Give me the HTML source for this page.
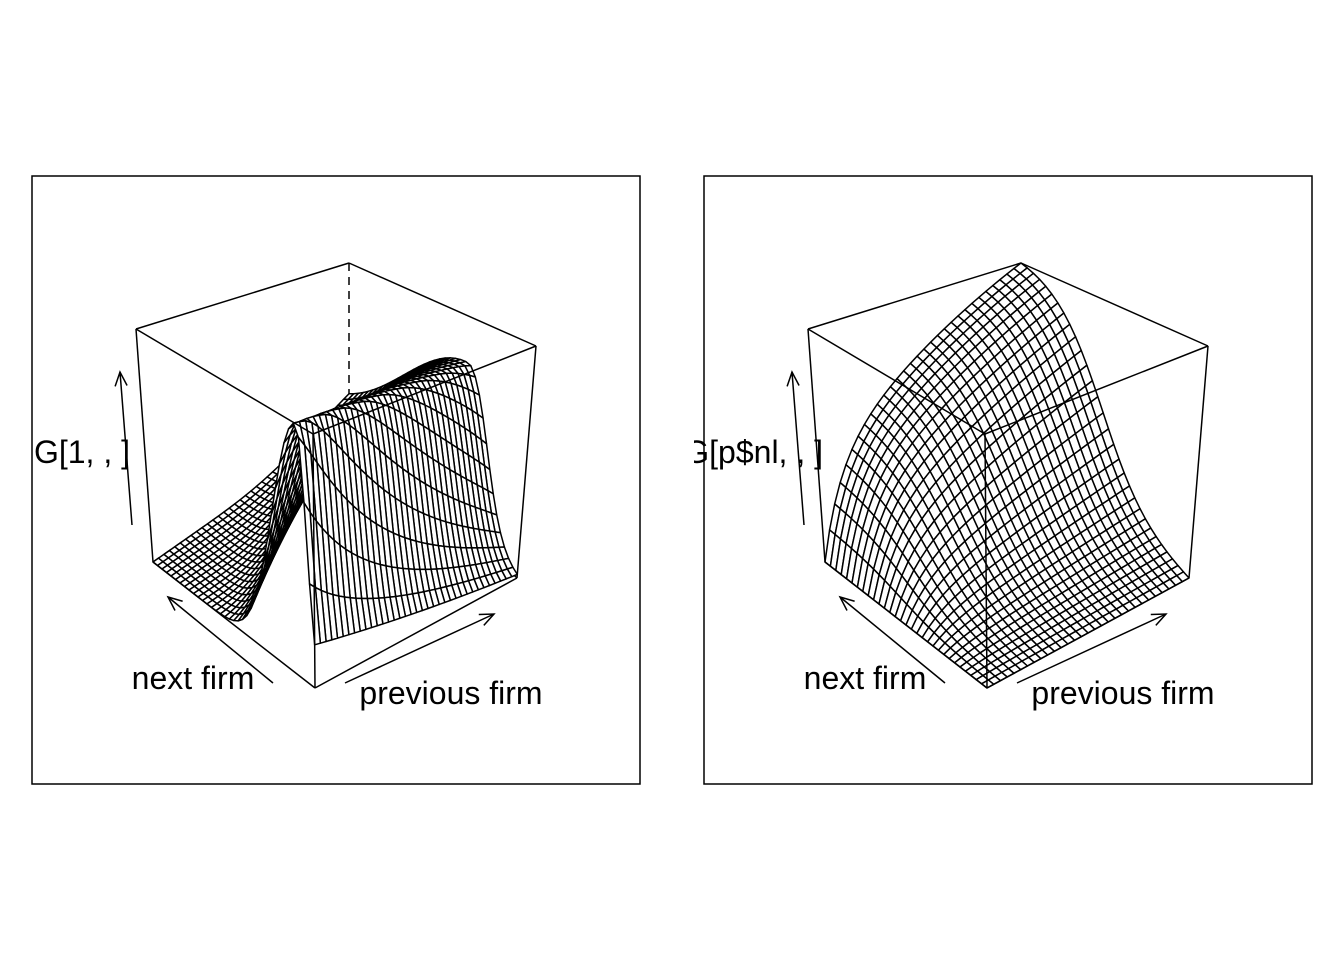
<!DOCTYPE html>
<html><head><meta charset="utf-8"><style>
body{margin:0;background:#fff}
svg{display:block;font-family:"Liberation Sans",sans-serif}
</style></head><body>
<svg id="c" width="1344" height="960">
<defs><clipPath id="clipL"><rect x="0" y="0" width="672" height="960"/></clipPath>
<clipPath id="clipR"><rect x="694" y="0" width="650" height="960"/></clipPath></defs>
</svg>
<script>
// data arrays
const gridN = [36, 30];
const zLabels = ["G[1, , ]", "G[p$nl, , ]"];
const zLabelEnd = [130, 823];
const xLabel = "previous firm";
const yLabel = "next firm";
const panelOffsets = [0, 672];
// left surface shape parameters
const leftPeak = [0.1, 0.35];
const leftFrontLevel = [0.17, 0.02];
const leftWidthBack = [0.2, 0.55];
const leftHeight = [1.0, 0.78];
// right surface parameters
const rightRise = [0.1];
const rightBase = [0.4];
const rightYCenter = [0.58];
const rightYWidth = [0.14];

const NS = "http://www.w3.org/2000/svg";
const svg = document.getElementById('c');
function el(t, a, p){const e=document.createElementNS(NS,t);for(const k in a)e.setAttribute(k,a[k]);(p||svg).appendChild(e);return e;}

const B00=[315,688],B10=[517,578],B01=[153,562],B11=[349,425];
const T00=[313,434],T10=[536,346],T01=[136,329],T11=[349,263];
function bil(a,b,c,d,x,y,k){return a[k]*(1-x)*(1-y)+b[k]*x*(1-y)+c[k]*(1-x)*y+d[k]*x*y;}
function proj(x,y,z,off){
  const bx=bil(B00,B10,B01,B11,x,y,0), by=bil(B00,B10,B01,B11,x,y,1);
  const tx=bil(T00,T10,T01,T11,x,y,0), ty=bil(T00,T10,T01,T11,x,y,1);
  return [bx*(1-z)+tx*z+off, by*(1-z)+ty*z];
}
function fLeft(x,y){
  const yp=leftPeak[0]+(leftPeak[1]-leftPeak[0])*x;
  const lvl=leftFrontLevel[0]+(leftFrontLevel[1]-leftFrontLevel[0])*x;
  const wf=yp/Math.sqrt(-Math.log(lvl));
  const wb=leftWidthBack[0]+(leftWidthBack[1]-leftWidthBack[0])*x;
  const w=y<yp?wf:wb;
  const h=leftHeight[0]+(leftHeight[1]-leftHeight[0])*x;
  return Math.exp(-Math.pow((y-yp)/w,2))*h;
}
function fRight(x,y){
  const sx=(1-Math.exp(-x/rightRise[0]))*(rightBase[0]+(1-rightBase[0])*x);
  const gy=1/(1+Math.exp(-(y-rightYCenter[0])/rightYWidth[0]));
  const g0=1/(1+Math.exp(rightYCenter[0]/rightYWidth[0]));
  const g1=1/(1+Math.exp(-(1-rightYCenter[0])/rightYWidth[0]));
  return sx*(gy-g0)/(g1-g0);
}
const fns=[fLeft,fRight];

panelOffsets.forEach((off,p)=>{
  const g=el('g',{});
  el('rect',{x:32+off,y:176,width:608,height:608,fill:'none',stroke:'#000','stroke-width':1.5,},g);
  const P=(x,y,z)=>proj(x,y,z,off);
  const line=(a,b,dash,name)=>el('line',{x1:a[0],y1:a[1],x2:b[0],y2:b[1],stroke:'#000','stroke-width':1.5,'stroke-dasharray':dash?'8,6':'none',},g);
  line(P(1,1,0),P(1,1,1),true,'box-back-edge');
  line(P(0,1,0),P(1,1,0),true,'box-back-edge');
  line(P(1,0,0),P(1,1,0),true,'box-back-edge');
  const n=gridN[p], f=fns[p];
  const sg=el('g',{},g);
  const cells=[];
  for(let i=0;i<n;i++)for(let j=0;j<n;j++)cells.push([i,j]);
  cells.sort((a,b)=>(b[0]+b[1])-(a[0]+a[1]));
  cells.forEach(([i,j])=>{
    const x0=i/n,x1=(i+1)/n,y0=j/n,y1=(j+1)/n;
    const pts=[P(x0,y0,f(x0,y0)),P(x1,y0,f(x1,y0)),P(x1,y1,f(x1,y1)),P(x0,y1,f(x0,y1))];
    const q=el('polygon',{points:pts.map(p=>p.join(',')).join(' '),fill:'#fff',stroke:'#000','stroke-width':1.5,'stroke-linejoin':'round'},sg);
    
    
  });
  line(P(0,0,1),P(1,0,1),false,'box-top-edge');
  line(P(1,0,1),P(1,1,1),false,'box-top-edge');
  line(P(1,1,1),P(0,1,1),false,'box-top-edge');
  line(P(0,1,1),P(0,0,1),false,'box-top-edge');
  line(P(0,1,0),P(0,1,1),false,'box-left-edge');
  line(P(1,0,0),P(1,0,1),false,'box-right-edge');
  line(P(0,0,0),P(0,0,1),false,'box-front-edge');
  line(P(0,0,0),P(1,0,0),false,'box-bottom-edge');
  line(P(0,0,0),P(0,1,0),false,'box-bottom-edge');
  const arrow=(a,b,name)=>{
    line(a,b,false,name);
    const dx=b[0]-a[0],dy=b[1]-a[1],L=Math.hypot(dx,dy),ux=dx/L,uy=dy/L;
    const h=14,w=6;
    el('polyline',{points:`${b[0]-ux*h-uy*w},${b[1]-uy*h+ux*w} ${b[0]},${b[1]} ${b[0]-ux*h+uy*w},${b[1]-uy*h-ux*w}`,fill:'none',stroke:'#000','stroke-width':1.5,},g);
  };
  arrow([132+off,525],[120+off,372],'z-axis-arrow');
  arrow([273+off,683],[168+off,597],'y-axis-arrow');
  arrow([345+off,683],[494+off,614],'x-axis-arrow');
  const txt=(s,x,y,anchor,name,clip)=>{const t=el('text',{x:x,y:y,'font-size':32,'text-anchor':anchor,'clip-path':clip||'none'},g);t.textContent=s;};
  txt(zLabels[p],zLabelEnd[p],463,'end','z-axis-title',p?'url(#clipR)':'url(#clipL)');
  txt(yLabel,193+off,689,'middle','y-axis-title');
  txt(xLabel,451+off,704,'middle','x-axis-title');
});
</script>
</body></html>
